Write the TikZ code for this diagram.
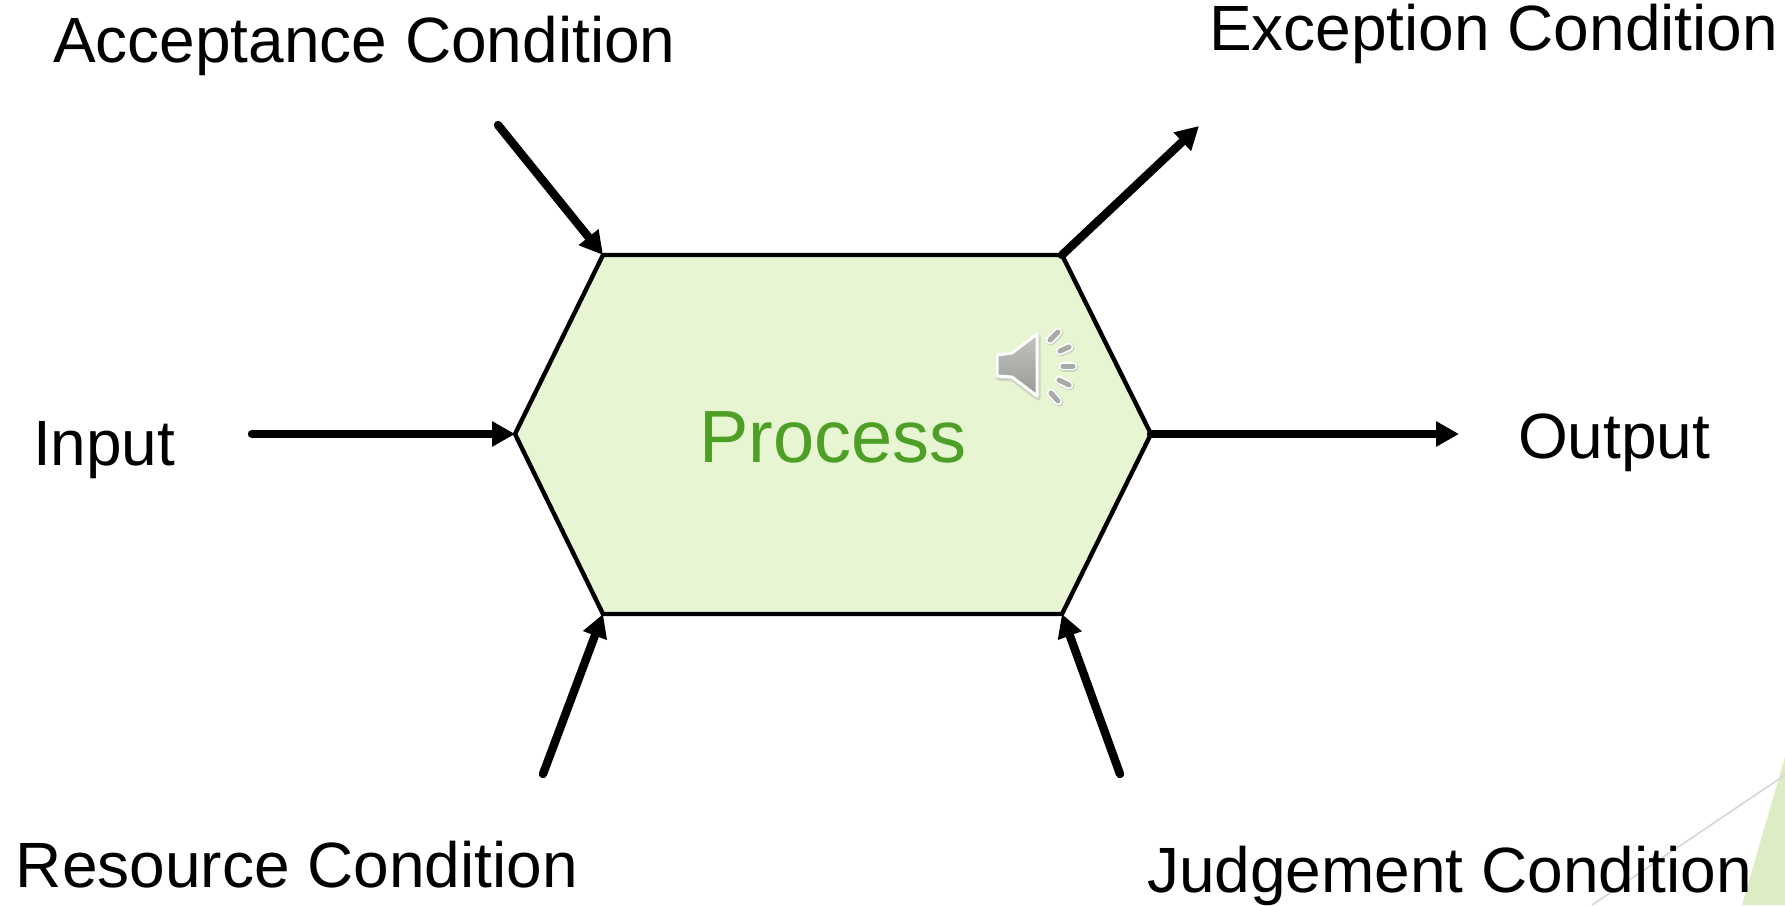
\documentclass[tikz,border=0pt]{standalone}
\usepackage{fontspec}
\setmainfont{Liberation Sans}
\usetikzlibrary{arrows.meta}
\definecolor{hexfill}{HTML}{E7F5D3}
\definecolor{procgreen}{HTML}{4E9F26}
\definecolor{cornergreen}{HTML}{DDEDC3}
\definecolor{cornerline}{HTML}{D6D6D6}
\definecolor{speakergrey}{HTML}{A9ABA7}
\definecolor{speakershadow}{HTML}{CBD6BC}
\tikzset{
  flow/.style={line width=8.4pt,line cap=round,-{Triangle[length=23pt,width=24pt]}},
  hexline/.style={draw=black,line width=4.4pt,line join=miter,fill=hexfill},
  lbl/.style={anchor=base west,inner sep=0pt,outer sep=0pt,font=\fontsize{64pt}{70pt}\selectfont,text=black},
  proclbl/.style={anchor=base west,inner sep=0pt,outer sep=0pt,font=\fontsize{74pt}{80pt}\selectfont,text=procgreen},
  ray/.style={line cap=round,line width=8.5pt,draw=white},
  rayshade/.style={line cap=round,line width=9.5pt,draw=speakershadow},
  rayin/.style={line cap=round,line width=5pt,draw=speakergrey},
}
\begin{document}
\begin{tikzpicture}[x=1pt,y=-1pt]
\useasboundingbox (0,0) rectangle (1785,905);
\fill[white] (0,0) rectangle (1785,905);
% corner decoration
\fill[cornergreen] (1785,757) -- (1785,905) -- (1742,905) -- cycle;
\draw[cornerline,line width=1.6pt] (1785,775) -- (1592,905);
% hexagon corners
\coordinate (tl) at (603,255);
\coordinate (tr) at (1062,255);
\coordinate (r) at (1151,434);
\coordinate (br) at (1062,614);
\coordinate (bl) at (603,614);
\coordinate (l) at (515,434);
\draw[hexline] (tl) -- (tr) -- (r) -- (br) -- (bl) -- (l) -- cycle;
\node[proclbl] (process) at (699,462) {Process};
% free arrow ends
\coordinate (accS) at (498,125);
\coordinate (excE) at (1199,126);
\coordinate (inS) at (252,434);
\coordinate (outE) at (1459,434);
\coordinate (resS) at (543,774);
\coordinate (judS) at (1120,774);
\draw[flow] (accS) -- (tl);
\draw[flow] (tr) -- (excE);
\draw[flow] (inS) -- (l);
\draw[flow] (r) -- (outE);
\draw[flow] (resS) -- (bl);
\draw[flow] (judS) -- (br);
% labels
\node[lbl] (acc) at (53,62) {Acceptance Condition};
\node[lbl] (exc) at (1209,50) {Exception Condition};
\node[lbl] (inp) at (33,465) {Input};
\node[lbl] (out) at (1518,458) {Output};
\node[lbl] (res) at (16,887) {Resource Condition};
\node[lbl] (jud) at (1147,892) {Judgement Condition};
% speaker icon
\draw[speakershadow,line width=5pt,line join=round]
  (998,357) -- (1013,355) -- (1038,336) -- (1038,398) -- (1013,379) -- (998,378) -- cycle;
\draw[white,line width=3pt,line join=round,top color=speakergrey!70!white,bottom color=speakergrey!90!black]
  (997,355) -- (1012,353) -- (1037,334) -- (1037,396) -- (1012,377) -- (997,376) -- cycle;
\foreach \a/\b/\c/\d in {1050/340/1058/332,1060/351/1069/347,1063/366/1073/366,1059/380/1069/385,1051/393/1058/401}{
  \draw[rayshade] (\a+0.8,\b+0.8) -- (\c+0.8,\d+0.8);
  \draw[ray] (\a,\b) -- (\c,\d);
  \draw[rayin] (\a,\b) -- (\c,\d);
}
\end{tikzpicture}
\end{document}
